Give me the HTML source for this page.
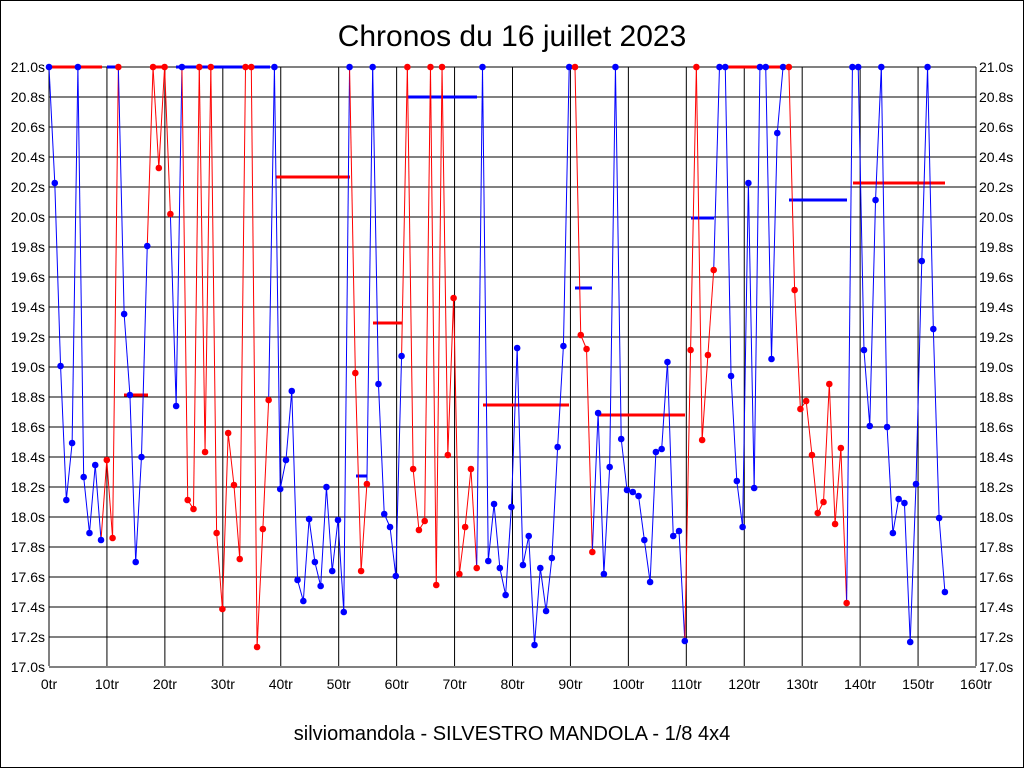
<!DOCTYPE html>
<html><head><meta charset="utf-8"><style>
body{margin:0;background:#fff;width:1024px;height:768px;overflow:hidden}
svg{display:block;font-family:"Liberation Sans",sans-serif}
</style></head><body>
<svg id="s" width="1024" height="768" viewBox="0 0 1024 768">
<rect x="0.5" y="0.5" width="1023" height="767" fill="#fff" stroke="#000"/>
<text x="512" y="46" font-size="30" text-anchor="middle">Chronos du 16 juillet 2023</text>
<text x="512" y="740" font-size="20" text-anchor="middle">silviomandola - SILVESTRO MANDOLA - 1/8 4x4</text>
<g id="g"></g>
</svg>
<script>
var g=document.getElementById('g'),h='';
var L=49,R=976,T=67,B=666;
for(var i=0;i<=16;i++){var x=L+i*(R-L)/16;h+='<line x1="'+x+'" y1="'+T+'" x2="'+x+'" y2="'+B+'" stroke="#000" stroke-width="1"/>';
h+='<text x="'+x+'" y="689" font-size="14" text-anchor="middle">'+(i*10)+'tr</text>';}
for(var j=0;j<=20;j++){var y=T+j*30;h+='<line x1="'+L+'" y1="'+y+'" x2="'+R+'" y2="'+y+'" stroke="#000" stroke-width="1"/>';
var v=(21-j*0.2).toFixed(1)+'s';h+='<text x="45" y="'+(y+5)+'" font-size="14" text-anchor="end">'+v+'</text><text x="979" y="'+(y+5)+'" font-size="14">'+v+'</text>';}
var bars=[['r',49,102,67],['b',107,119,67],['r',124,148,395],['r',153,165,67],['b',176,270,67],['r',276,350,177],['r',373,402,323],['b',356,367,476],['b',408,477,97],['r',483,569,405],['b',575,592,288],['r',598,685,415],['b',691,714,218],['r',725,789,67],['b',789,847,200],['r',853,945,183]];
bars.forEach(function(b){h+='<line x1="'+b[1]+'" y1="'+b[3]+'" x2="'+b[2]+'" y2="'+b[3]+'" stroke="'+(b[0]=='r'?'#f00':'#00f')+'" stroke-width="3"/>';});
var d="b 67 183 366 500 443 67 477 533 465 540 r 460 538 67 b 314 395 562 457 246 r 67 168 67 214 b 406 67 r 500 509 67 452 67 533 609 433 485 559 67 67 647 529 400 b 67 489 460 391 580 601 519 562 586 487 571 520 612 67 r 373 571 484 b 67 384 514 527 576 356 r 67 469 530 521 67 585 67 455 298 574 527 469 568 b 67 561 504 568 595 507 348 565 536 645 568 611 558 447 346 67 r 67 335 349 552 b 413 574 467 67 439 490 492 496 540 582 452 449 362 536 531 641 r 350 67 440 355 270 b 67 67 376 481 527 183 488 67 67 359 133 67 r 67 290 409 401 455 513 502 384 524 448 603 b 67 67 350 426 200 67 427 533 499 503 642 484 261 67 329 518 592".split(' ');
var c='#00f',pts=[],n=0;
d.forEach(function(t){if(t=='b')c='#00f';else if(t=='r')c='#f00';else{pts.push([L+n*5.78,+t,c]);n++;}});
for(var k=1;k<pts.length;k++)h+='<line x1="'+pts[k-1][0]+'" y1="'+pts[k-1][1]+'" x2="'+pts[k][0]+'" y2="'+pts[k][1]+'" stroke="'+pts[k][2]+'" stroke-width="1"/>';
pts.forEach(function(p){h+='<circle cx="'+p[0]+'" cy="'+p[1]+'" r="3.3" fill="'+p[2]+'"/>';});
g.innerHTML=h;
</script>
</body></html>
